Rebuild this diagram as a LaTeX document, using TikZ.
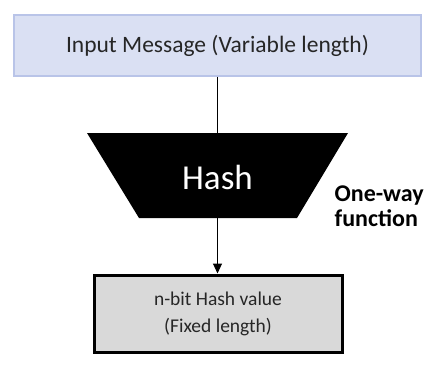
\documentclass[tikz,border=0pt]{standalone}
\usepackage{fontspec}
\setmainfont{Carlito}
\usetikzlibrary{arrows.meta}
\begin{document}
\begin{tikzpicture}[x=1pt,y=-1pt,
  inbox/.style={draw=inborder,fill=infill,line width=1.8pt,minimum width=407pt,minimum height=61pt,inner sep=0pt,font=\fontsize{23.5}{28}\selectfont,text=black!85},
  outbox/.style={draw=black,fill=outfill,line width=3pt,minimum width=248pt,minimum height=77pt,inner sep=0pt,align=center,font=\fontsize{19.5}{27}\selectfont,text=black!85},
  conn/.style={line width=1pt,black}]
\definecolor{infill}{HTML}{DAE0F3}
\definecolor{inborder}{HTML}{B9C4E8}
\definecolor{outfill}{HTML}{D9D9D9}
\useasboundingbox (0,0) rectangle (435,365);
\node[inbox] (in) at (217.5,45.5) {Input Message (Variable length)};
\fill[black] (87,133) -- (348,133) -- (297,218) -- (139,218) -- cycle;
\coordinate (htop) at (217.5,133);
\coordinate (hbot) at (217.5,218);
\node[text=white,font=\fontsize{35}{40}\selectfont] (hash) at (217.5,177) {Hash};
\node[font=\bfseries\fontsize{24}{25.5}\selectfont,align=left,inner sep=0pt,anchor=west] (ow) at (334.5,206) {One-way\\function};
\node[outbox] (out) at (218,313.5) {n-bit Hash value\\(Fixed length)};
\draw[conn] (in.south -| htop) -- (htop);
\draw[conn,-{Triangle[width=9pt,length=10pt]}] (hbot) -- (out.north -| hbot);
\end{tikzpicture}
\end{document}
